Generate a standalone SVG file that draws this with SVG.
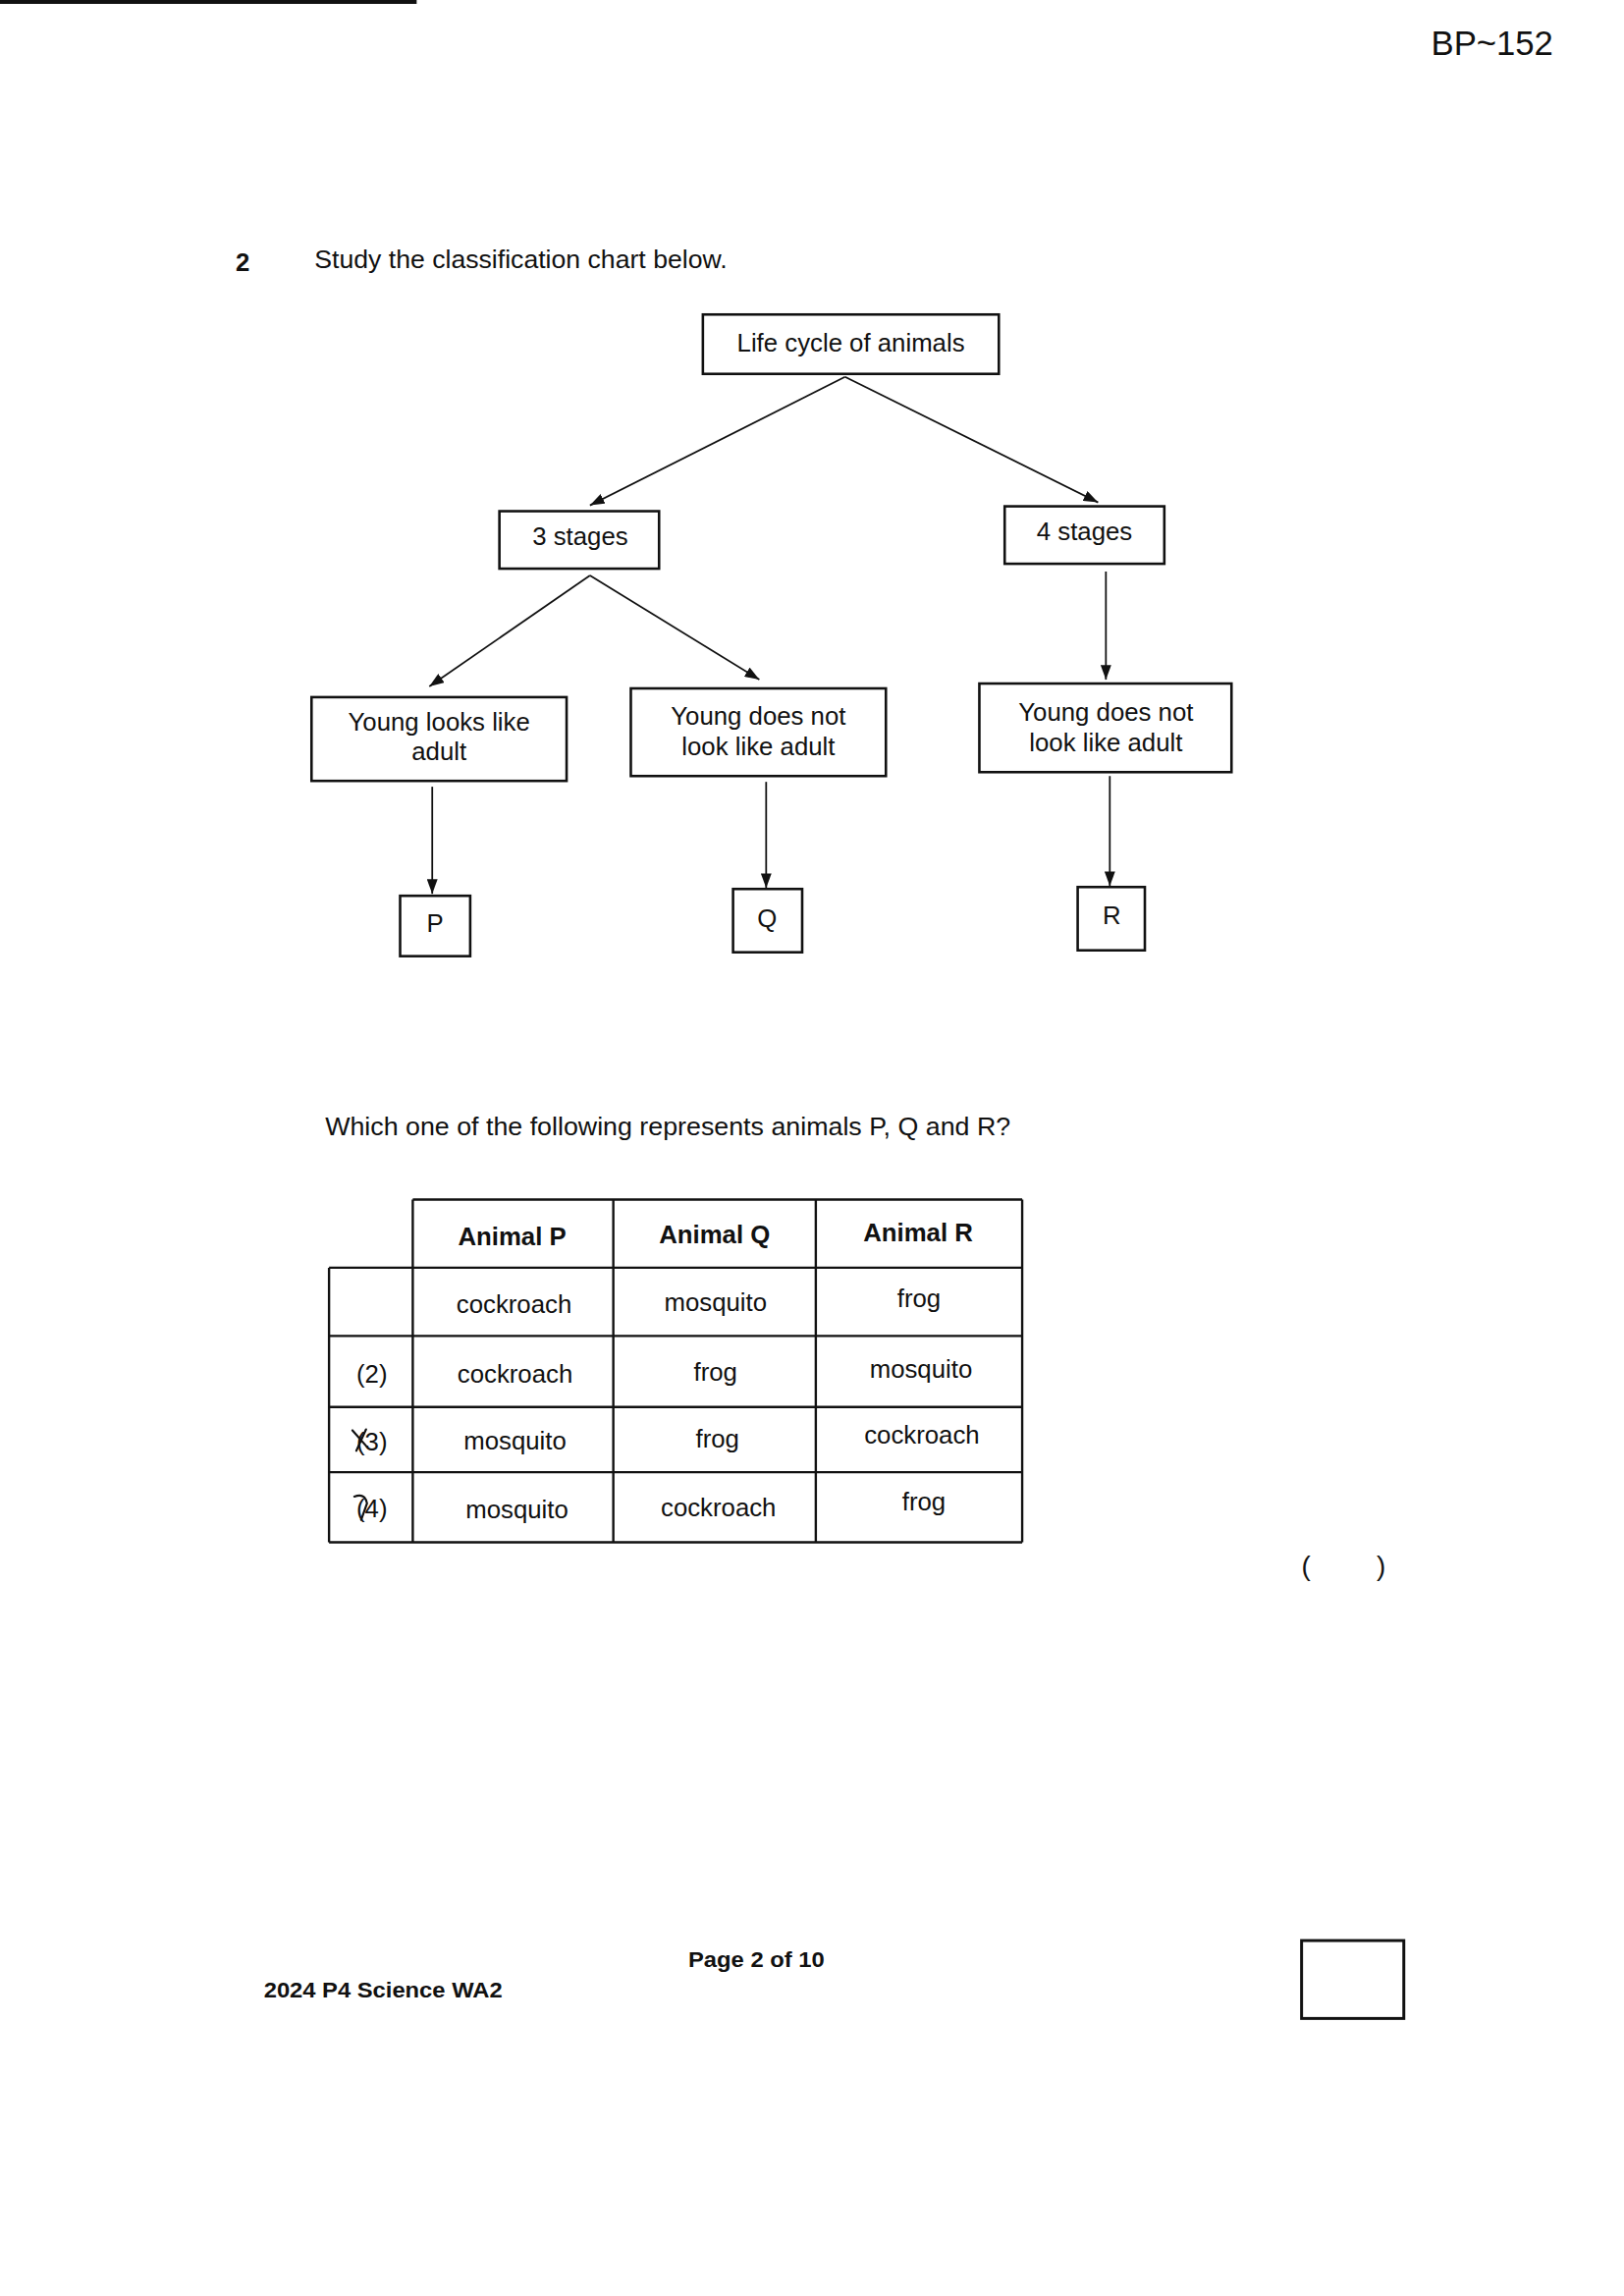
<svg xmlns="http://www.w3.org/2000/svg" width="1654" height="2338" viewBox="0 0 1654 2338">
<style>
text{font-family:"Liberation Sans",Arial,sans-serif;fill:#111;}
.t{font-size:26px;}
.c{text-anchor:middle;}
.b{font-weight:bold;}
.box{fill:#fff;stroke:#111;stroke-width:2.6;}
.con{stroke:#111;stroke-width:1.8;fill:none;}
.tl{stroke:#111;stroke-width:2.4;fill:none;}
.pen{stroke:#111;stroke-width:2.2;fill:none;stroke-linecap:round;}
</style>
<defs>
<marker id="ah" viewBox="0 0 15 11" refX="15" refY="5.5" markerWidth="15" markerHeight="11" markerUnits="userSpaceOnUse" orient="auto">
<path d="M0,0 L15,5.5 L0,11 z" fill="#111"/>
</marker>
</defs>
<rect width="1654" height="2338" fill="#fff"/>
<g transform="scale(0.9915)">
<rect x="0" y="0" width="428" height="4" fill="#111"/>
<text x="1470" y="57" style="font-size:35px">BP~152</text>

<g id="question">
<text class="t b" x="242" y="278">2</text>
<text class="t" x="323" y="275" textLength="424" lengthAdjust="spacingAndGlyphs">Study the classification chart below.</text>
</g>

<g id="connectors">
<line class="con" x1="868" y1="387" x2="606" y2="519" marker-end="url(#ah)"/>
<line class="con" x1="868" y1="387" x2="1128" y2="516" marker-end="url(#ah)"/>
<line class="con" x1="606" y1="591" x2="441" y2="705" marker-end="url(#ah)"/>
<line class="con" x1="606" y1="591" x2="780" y2="698" marker-end="url(#ah)"/>
<line class="con" x1="1136" y1="587" x2="1136" y2="698" marker-end="url(#ah)"/>
<line class="con" x1="444" y1="808" x2="444" y2="918" marker-end="url(#ah)"/>
<line class="con" x1="787" y1="803" x2="787" y2="912" marker-end="url(#ah)"/>
<line class="con" x1="1140" y1="797" x2="1140" y2="910" marker-end="url(#ah)"/>
</g>

<g id="node-root">
<rect class="box" x="722" y="323" width="304" height="61"/>
<text class="t c" x="874" y="361">Life cycle of animals</text>
</g>
<g id="node-3stages">
<rect class="box" x="513" y="525" width="164" height="59"/>
<text class="t c" x="596" y="560">3 stages</text>
</g>
<g id="node-4stages">
<rect class="box" x="1032" y="520" width="164" height="59"/>
<text class="t c" x="1114" y="555">4 stages</text>
</g>
<g id="node-looks-like">
<rect class="box" x="320" y="716" width="262" height="86"/>
<text class="t c" x="451" y="750">Young looks like</text>
<text class="t c" x="451" y="781">adult</text>
</g>
<g id="node-not-like-3">
<rect class="box" x="648" y="707" width="262" height="90"/>
<text class="t c" x="779" y="744">Young does not</text>
<text class="t c" x="779" y="776">look like adult</text>
</g>
<g id="node-not-like-4">
<rect class="box" x="1006" y="702" width="259" height="91"/>
<text class="t c" x="1136" y="740">Young does not</text>
<text class="t c" x="1136" y="772">look like adult</text>
</g>
<g id="node-P">
<rect class="box" x="411" y="920" width="72" height="62"/>
<text class="t c" x="447" y="957">P</text>
</g>
<g id="node-Q">
<rect class="box" x="753" y="913" width="71" height="65"/>
<text class="t c" x="788" y="952">Q</text>
</g>
<g id="node-R">
<rect class="box" x="1107" y="911" width="69" height="65"/>
<text class="t c" x="1142" y="949">R</text>
</g>

<g id="question-2">
<text class="t" x="334" y="1166" textLength="704" lengthAdjust="spacingAndGlyphs">Which one of the following represents animals P, Q and R?</text>
</g>

<g id="table">
<path class="tl" d="M424,1232 H1050 M338,1302 H1050 M338,1372 H1050 M338,1445 H1050 M338,1512 H1050 M338,1584 H1050 M338,1302 V1584 M424,1232 V1584 M630,1232 V1584 M838,1232 V1584 M1050,1232 V1584"/>
<text class="t c b" x="526" y="1279">Animal P</text>
<text class="t c b" x="734" y="1277">Animal Q</text>
<text class="t c b" x="943" y="1275">Animal R</text>
<text class="t c" x="528" y="1348">cockroach</text>
<text class="t c" x="735" y="1346">mosquito</text>
<text class="t c" x="944" y="1342">frog</text>
<text class="t c" x="382" y="1420">(2)</text>
<text class="t c" x="529" y="1420">cockroach</text>
<text class="t c" x="735" y="1418">frog</text>
<text class="t c" x="946" y="1415">mosquito</text>
<text class="t c" x="382" y="1490">(3)</text>
<text class="t c" x="529" y="1489">mosquito</text>
<text class="t c" x="737" y="1487">frog</text>
<text class="t c" x="947" y="1483">cockroach</text>
<text class="t c" x="382" y="1558">(4)</text>
<text class="t c" x="531" y="1559">mosquito</text>
<text class="t c" x="738" y="1557">cockroach</text>
<text class="t c" x="949" y="1551">frog</text>
<path class="pen" d="M362,1469 L377,1486 M376,1468 L366,1490"/>
<path class="pen" d="M364,1537 Q375,1533 377,1544 L371,1561"/>
</g>

<g id="answer">
<text x="1337" y="1618" style="font-size:28px">(</text>
<text x="1414" y="1618" style="font-size:28px">)</text>
</g>

<g id="footer">
<text class="b" x="271" y="2051" style="font-size:23px" textLength="245" lengthAdjust="spacingAndGlyphs">2024 P4 Science WA2</text>
<text class="b" x="707" y="2020" style="font-size:23px" textLength="140" lengthAdjust="spacingAndGlyphs">Page 2 of 10</text>
<rect x="1337" y="1993" width="105" height="80" fill="none" stroke="#111" stroke-width="3"/>
</g>
</g>
</svg>
